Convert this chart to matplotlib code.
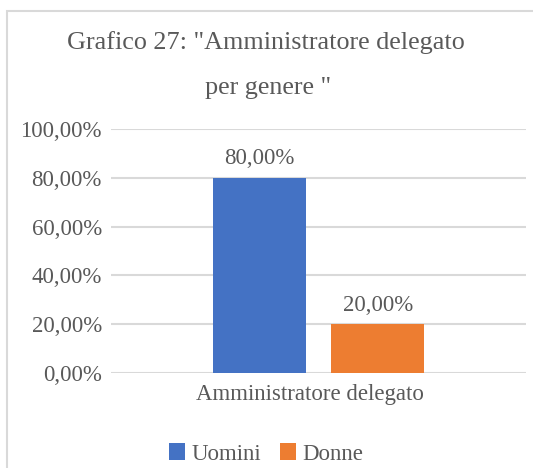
import matplotlib
matplotlib.use("Agg")
import matplotlib.pyplot as plt
import matplotlib.transforms as mtransforms
from matplotlib.patches import Rectangle
from matplotlib.ticker import FuncFormatter

categories = ["Amministratore delegato"]
series_names = ["Uomini", "Donne"]
series_values = [[0.80], [0.20]]
colors = ["#4472C4", "#ED7D31"]
yticks = [0.0, 0.2, 0.4, 0.6, 0.8, 1.0]
title_lines = ["Grafico 27: \"Amministratore delegato", "per genere \""]

plt.rcParams['font.family'] = ['Liberation Serif', 'DejaVu Serif']
TXT = "#595959"
GRID = "#D9D9D9"
W, H = 533, 468
fig = plt.figure(figsize=(W / 100, H / 100), dpi=100)

# outer chart border (cropped at right and bottom)
fig.patches.append(Rectangle((7 / W, -0.2), 1.2, (H - 11) / H + 0.2, transform=fig.transFigure,
                             fill=False, edgecolor=GRID, linewidth=1.5))

ax = fig.add_axes([111 / W, 95 / H, 415 / W, 244 / H])
ax.set_xlim(-0.5, 0.5)
ax.set_ylim(0, 1.0)

bw = 0.225
offs = [-0.1425, 0.1425]
for i, (name, vals) in enumerate(zip(series_names, series_values)):
    xs = [j + offs[i] for j in range(len(categories))]
    bars = ax.bar(xs, vals, width=bw, color=colors[i], label=name, zorder=3)
    for b, v in zip(bars, vals):
        ax.annotate(f"{v * 100:.2f}%".replace(".", ","), (b.get_x() + b.get_width() / 2, v),
                    xytext=(0, 6), textcoords="offset points", ha="center", va="bottom",
                    fontsize=16.5, color=TXT)

ax.set_yticks(yticks)
ax.yaxis.set_major_formatter(FuncFormatter(lambda v, p: f"{v * 100:.2f}%".replace(".", ",")))
ax.set_xticks(range(len(categories)))
ax.set_xticklabels(categories)
ax.tick_params(axis="both", length=0, labelsize=16.5, labelcolor=TXT)
ax.tick_params(axis="y", pad=6.5)
ax.tick_params(axis="x", pad=8)
offset = mtransforms.ScaledTranslation(-9 / 100, 0, fig.dpi_scale_trans)
for lab in ax.get_xticklabels():
    lab.set_transform(lab.get_transform() + offset)
ax.grid(axis="y", color=GRID, linewidth=1.5, zorder=0)
ax.set_axisbelow(True)
for s in ax.spines.values():
    s.set_visible(False)

fig.text(266 / W, 1 - 49 / H, title_lines[0], ha="center", va="baseline", fontsize=18.8, color=TXT)
fig.text(268 / W, 1 - 94 / H, title_lines[1], ha="center", va="baseline", fontsize=18.8, color=TXT)

leg = fig.legend(loc="center", bbox_to_anchor=(266 / W, 1 - 454 / H), ncol=2, frameon=False,
                 fontsize=16.5, labelcolor=TXT, handlelength=0.7, handleheight=0.7,
                 handletextpad=0.3, columnspacing=0.8)

fig.savefig("out.png", dpi=100)
